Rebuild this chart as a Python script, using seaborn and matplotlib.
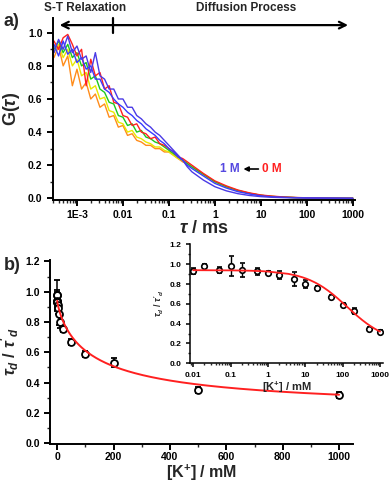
import numpy as np
import pandas as pd
import seaborn as sns
import matplotlib
matplotlib.use('Agg')
import matplotlib.pyplot as plt
from matplotlib.ticker import FixedLocator, FixedFormatter, MultipleLocator, LogLocator, NullFormatter

# ---- panel a: FCS curves ----
log_tau = [-3.5, -3.4, -3.3, -3.2, -3.1, -3.0, -2.9, -2.8, -2.7, -2.6, -2.5,
           -2.4, -2.3, -2.2, -2.1, -2.0, -1.9, -1.8, -1.7, -1.6, -1.5,
           -1.4, -1.3, -1.2, -1.1, -1.0, -0.9, -0.8, -0.7, -0.6, -0.5,
           -0.25, 0.0, 0.25, 0.5, 0.75, 1.0, 1.25, 1.5, 1.75, 2.0, 2.5, 3.0]

g_orange = [0.85, 0.92, 0.80, 0.86, 0.68, 0.78, 0.66, 0.70, 0.60, 0.63, 0.55,
            0.57, 0.49, 0.50, 0.43, 0.44, 0.38, 0.39, 0.35, 0.34, 0.32,
            0.32, 0.30, 0.30, 0.28, 0.28, 0.26, 0.24, 0.22, 0.21, 0.19,
            0.145, 0.10, 0.07, 0.047, 0.03, 0.018, 0.011, 0.007, 0.004, 0.002, 0.001, 0.0]
g_yellow = [0.88, 0.93, 0.85, 0.90, 0.80, 0.84, 0.74, 0.76, 0.66, 0.68, 0.60,
            0.61, 0.53, 0.52, 0.46, 0.45, 0.40, 0.41, 0.37, 0.36, 0.34,
            0.33, 0.31, 0.31, 0.29, 0.28, 0.26, 0.24, 0.23, 0.21, 0.19,
            0.145, 0.10, 0.07, 0.047, 0.03, 0.018, 0.011, 0.007, 0.004, 0.002, 0.001, 0.0]
g_green = [0.90, 0.95, 0.88, 0.93, 0.85, 0.88, 0.80, 0.82, 0.72, 0.74, 0.66,
           0.64, 0.58, 0.57, 0.50, 0.49, 0.44, 0.45, 0.40, 0.41, 0.37,
           0.36, 0.34, 0.33, 0.31, 0.29, 0.27, 0.25, 0.23, 0.21, 0.19,
           0.145, 0.10, 0.07, 0.047, 0.03, 0.018, 0.011, 0.007, 0.004, 0.002, 0.001, 0.0]
g_red = [0.95, 0.90, 0.97, 0.99, 0.93, 0.86, 0.90, 0.68, 0.84, 0.74, 0.76,
         0.66, 0.68, 0.58, 0.57, 0.50, 0.49, 0.44, 0.45, 0.40, 0.39,
         0.36, 0.37, 0.33, 0.32, 0.30, 0.28, 0.25, 0.24, 0.22, 0.20,
         0.15, 0.105, 0.075, 0.05, 0.033, 0.02, 0.013, 0.008, 0.005, 0.003, 0.001, 0.0]
g_blue2 = [0.93, 0.86, 0.95, 0.87, 0.90, 0.82, 0.85, 0.78, 0.80, 0.72, 0.72,
           0.66, 0.64, 0.60, 0.57, 0.55, 0.52, 0.50, 0.47, 0.45, 0.42,
           0.40, 0.38, 0.35, 0.33, 0.30, 0.28, 0.25, 0.23, 0.20, 0.18,
           0.135, 0.09, 0.062, 0.04, 0.026, 0.015, 0.009, 0.006, 0.004, 0.002, 0.001, 0.0]
g_blue1 = [0.88, 0.96, 0.90, 0.98, 0.88, 0.92, 0.84, 0.86, 0.76, 0.88, 0.74,
           0.72, 0.66, 0.66, 0.60, 0.60, 0.55, 0.55, 0.50, 0.48, 0.45,
           0.43, 0.40, 0.38, 0.35, 0.32, 0.29, 0.26, 0.23, 0.19, 0.16,
           0.11, 0.07, 0.045, 0.028, 0.017, 0.01, 0.006, 0.004, 0.003, 0.002, 0.001, 0.0]

curves = {'orange': g_orange, 'yellow': g_yellow, 'green': g_green,
          'red': g_red, 'blue2': g_blue2, 'blue1': g_blue1}
curve_colors = {'orange': '#ff8c1a', 'yellow': '#e8e800', 'green': '#1ec81e',
                'red': '#ff2020', 'blue2': '#3a3aff', 'blue1': '#4a3ae6'}

# ---- panel b: relaxation time ratio vs [K+] ----
conc = [0.01, 0.02, 0.05, 0.1, 0.2, 0.5, 1, 2, 5, 10, 20, 50, 100, 200, 500, 1000]
ratio = [0.93, 0.98, 0.94, 0.98, 0.94, 0.93, 0.915, 0.89, 0.85, 0.80, 0.755,
         0.67, 0.59, 0.53, 0.35, 0.32]
ratio_err = [0.03, 0.02, 0.03, 0.10, 0.07, 0.035, 0.02, 0.04, 0.07, 0.04, 0.02,
             0.02, 0.02, 0.03, 0.02, 0.02]

# fit parameters (Hill-type decay)
fit_c, fit_a, fit_k, fit_n = 0.20, 0.74, 131.0, 0.81

sns.set_style('ticks')
plt.rcParams['font.family'] = ['Liberation Sans', 'DejaVu Sans']
plt.rcParams['font.weight'] = 'bold'
plt.rcParams['axes.labelweight'] = 'bold'
plt.rcParams['mathtext.fontset'] = 'custom'
plt.rcParams['mathtext.rm'] = 'Liberation Sans:bold'
plt.rcParams['mathtext.it'] = 'Liberation Sans:italic:bold'
plt.rcParams['mathtext.bf'] = 'Liberation Sans:bold'


def style_axes(ax, lw=1.4, fs=7.5):
    for s in ['top', 'right']:
        ax.spines[s].set_visible(False)
    for s in ['left', 'bottom']:
        ax.spines[s].set_linewidth(lw)
        ax.spines[s].set_color('black')
    ax.tick_params(which='major', direction='out', length=4, width=lw, labelsize=fs, colors='black')
    ax.tick_params(which='minor', direction='out', length=2, width=1.0)
    for t in ax.get_xticklabels() + ax.get_yticklabels():
        t.set_fontweight('bold')


fig = plt.figure(figsize=(3.92, 4.83), dpi=100)

# panel a
ax1 = fig.add_axes([0.135, 0.586, 0.770, 0.377])
rows = []
for name, vals in curves.items():
    for lt, g in zip(log_tau, vals):
        rows.append({'tau': 10 ** lt, 'G': g, 'curve': name})
df_a = pd.DataFrame(rows)
sns.lineplot(data=df_a, x='tau', y='G', hue='curve', palette=curve_colors,
             estimator=None, sort=False, legend=False, lw=1.0, ax=ax1)
ax1.set_xscale('log')
ax1.set_xlim(3e-4, 1100)
ax1.set_ylim(-0.01, 1.09)
ax1.xaxis.set_major_locator(FixedLocator([1e-3, 1e-2, 1e-1, 1, 10, 100, 1000]))
ax1.xaxis.set_major_formatter(FixedFormatter(['1E-3', '0.01', '0.1', '1', '10', '100', '1000']))
ax1.xaxis.set_minor_locator(LogLocator(base=10, subs=np.arange(2, 10), numticks=20))
ax1.xaxis.set_minor_formatter(NullFormatter())
ax1.yaxis.set_major_locator(MultipleLocator(0.2))
ax1.yaxis.set_minor_locator(MultipleLocator(0.1))
ax1.set_yticks([0.0, 0.2, 0.4, 0.6, 0.8, 1.0])
ax1.set_xlabel('$\\tau$ / ms', fontsize=13, labelpad=0)
ax1.set_ylabel('G($\\tau$)', fontsize=13, labelpad=4)
style_axes(ax1)

ax1.text(0.555, 0.17, '1 M', transform=ax1.transAxes, color='#5548e0',
         fontsize=8.5, fontweight='bold', va='center', ha='left')
ax1.text(0.692, 0.17, '0 M', transform=ax1.transAxes, color='#ff2020',
         fontsize=8.5, fontweight='bold', va='center', ha='left')
ax1.annotate('', xy=(0.622, 0.17), xytext=(0.69, 0.17), xycoords='axes fraction',
             arrowprops=dict(arrowstyle='-|>', color='black', lw=1.2, mutation_scale=7))

# panel a header arrow
fig.text(0.218, 0.984, 'S-T Relaxation', ha='center', va='center', fontsize=8.5, fontweight='bold')
fig.text(0.628, 0.984, 'Diffusion Process', ha='center', va='center', fontsize=8.5, fontweight='bold')
fig.add_artist(matplotlib.patches.FancyArrowPatch((0.145, 0.948), (0.895, 0.948),
               transform=fig.transFigure, arrowstyle='<->', mutation_scale=12, lw=1.6, color='black'))
fig.add_artist(matplotlib.lines.Line2D([0.288, 0.288], [0.932, 0.963],
               transform=fig.transFigure, color='black', lw=1.6))
fig.text(0.028, 0.955, 'a)', ha='center', va='center', fontsize=13)
fig.text(0.031, 0.451, 'b)', ha='center', va='center', fontsize=13)

# panel b main
ax2 = fig.add_axes([0.128, 0.081, 0.773, 0.381])
df_b = pd.DataFrame({'conc': conc, 'ratio': ratio, 'err': ratio_err})
fit_x = np.concatenate([np.linspace(0.01, 1, 20), np.linspace(1, 1000, 400)])
fit_y = fit_c + fit_a / (1 + (fit_x / fit_k) ** fit_n)
df_fit = pd.DataFrame({'conc': fit_x, 'ratio': fit_y})
ax2.errorbar(df_b['conc'], df_b['ratio'], yerr=df_b['err'], fmt='o', ms=5,
             mfc='white', mec='black', mew=1.3, ecolor='black', elinewidth=1.1,
             capsize=2, capthick=1.1, zorder=2)
sns.lineplot(data=df_fit, x='conc', y='ratio', color='#ff2020', lw=1.4,
             estimator=None, sort=False, ax=ax2, zorder=3)
ax2.set_xlim(-25, 1050)
ax2.set_ylim(-0.005, 1.21)
ax2.xaxis.set_major_locator(MultipleLocator(200))
ax2.xaxis.set_minor_locator(MultipleLocator(100))
ax2.yaxis.set_major_locator(MultipleLocator(0.2))
ax2.yaxis.set_minor_locator(MultipleLocator(0.1))
ax2.set_xlabel('[K$^{+}$] / mM', fontsize=11.5, va='center')
ax2.xaxis.set_label_coords(0.5, -0.158)
ax2.set_ylabel("$\\tau_d$ / $\\tau'_d$", fontsize=12)
ax2.yaxis.set_label_coords(-0.095, 0.5)
style_axes(ax2)
ax2.tick_params(axis='x', which='major', pad=2)

# inset
ax3 = fig.add_axes([0.485, 0.248, 0.492, 0.246])
ax3.errorbar(df_b['conc'], df_b['ratio'], yerr=df_b['err'], fmt='o', ms=4,
             mfc='white', mec='black', mew=1.2, ecolor='black', elinewidth=1.0,
             capsize=1.8, capthick=1.0, zorder=2)
sns.lineplot(data=df_fit, x='conc', y='ratio', color='#ff2020', lw=1.3,
             estimator=None, sort=False, ax=ax3, zorder=3)
ax3.set_xscale('log')
ax3.set_xlim(0.0083, 1200)
ax3.set_ylim(0, 1.2)
ax3.xaxis.set_major_locator(FixedLocator([0.01, 0.1, 1, 10, 100, 1000]))
ax3.xaxis.set_major_formatter(FixedFormatter(['0.01', '0.1', '1', '10', '100', '1000']))
ax3.xaxis.set_minor_locator(LogLocator(base=10, subs=np.arange(2, 10), numticks=20))
ax3.xaxis.set_minor_formatter(NullFormatter())
ax3.yaxis.set_major_locator(MultipleLocator(0.2))
ax3.yaxis.set_minor_locator(MultipleLocator(0.1))
ax3.set_xlabel('[K$^{+}$] / mM', fontsize=8, labelpad=0)
ax3.set_ylabel("$\\tau_d$ / $\\tau'_d$", fontsize=6.5, labelpad=2)
style_axes(ax3, lw=1.1, fs=6)
ax3.tick_params(which='major', length=3)
ax3.tick_params(which='minor', length=1.5)
ax3.patch.set_alpha(0)

fig.savefig('out.png', dpi=100)
